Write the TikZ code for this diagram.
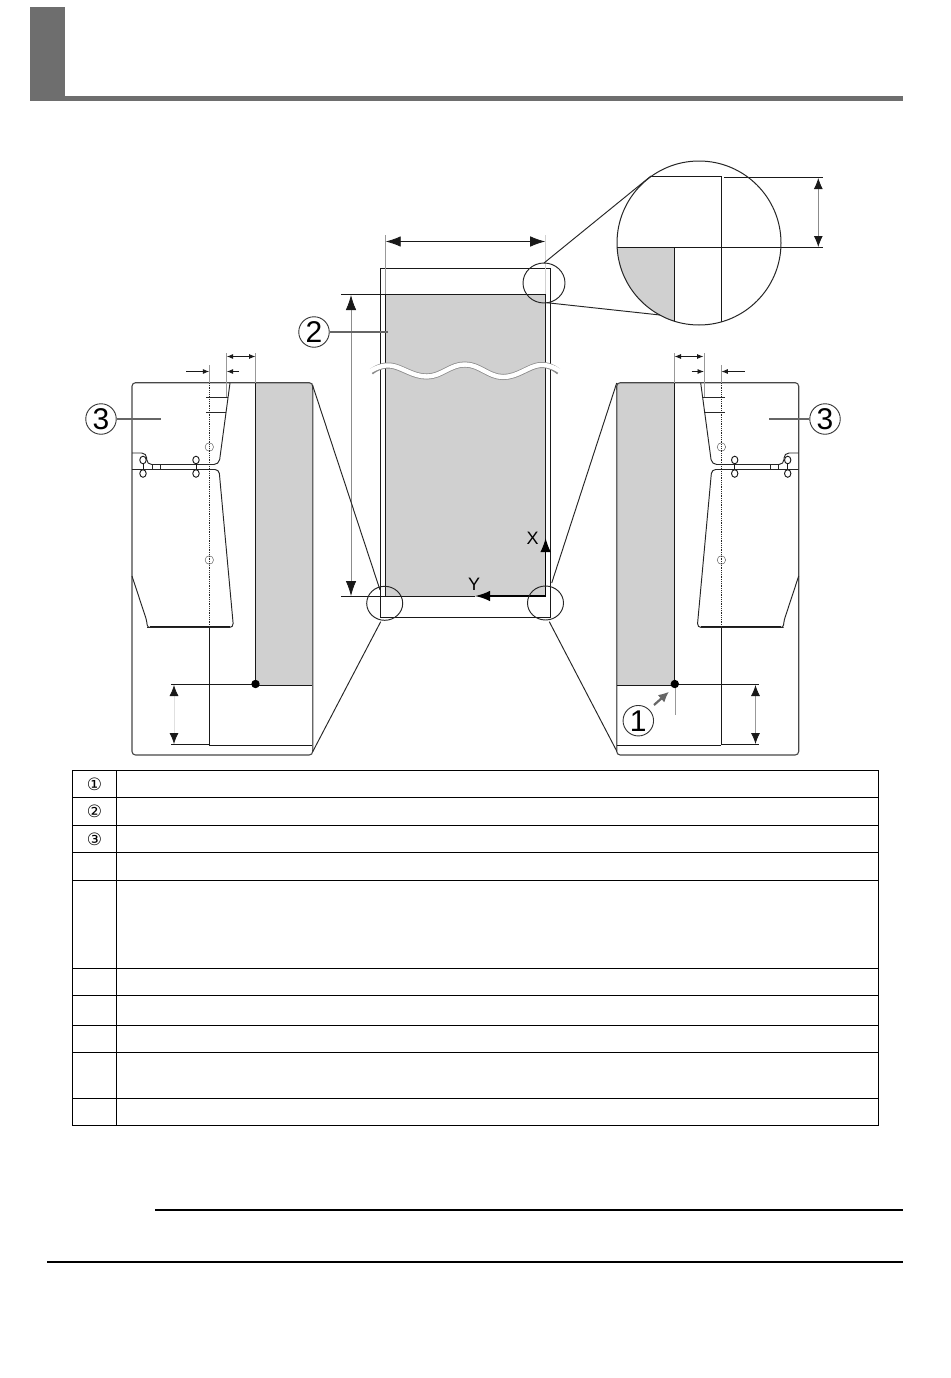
\documentclass[tikz,border=0pt]{standalone}
\usepackage{fontspec}
\setmainfont{Liberation Sans}
\newfontfamily\symfont{DejaVu Sans}
\usetikzlibrary{arrows.meta}
\definecolor{fillgray}{HTML}{D0D0D0}
\definecolor{bargray}{HTML}{6E6E6E}
\tikzset{
  ink/.style={draw=black!90,line width=1.1pt},
  thin ink/.style={draw=black!85,line width=.95pt},
  outline/.style={draw=black!72,line width=1.1pt,rounded corners=3.5pt},
  ext/.style={draw=black!40,line width=.8pt},
  bigdim/.style={draw=black!45,line width=.8pt,{Latex[length=15pt,width=10.5pt,color=black!90]}-{Latex[length=15pt,width=10.5pt,color=black!90]}},
  meddim/.style={draw=black!30,line width=.8pt,{Latex[length=11pt,width=9pt,color=black!90]}-{Latex[length=11pt,width=9pt,color=black!90]}},
  smalldim/.style={draw=black!90,line width=.8pt,{Latex[length=6.5pt,width=5pt]}-{Latex[length=6.5pt,width=5pt]}},
  oneway/.style={draw=black!90,line width=.8pt,-{Latex[length=6.5pt,width=5pt]}},
  callout/.style={circle,draw=black!80,line width=.9pt,minimum size=30.5pt,inner sep=0pt,fill=white,font=\fontsize{30}{30}\selectfont},
  leader/.style={draw=black!60,line width=1.6pt},
  axislabel/.style={inner sep=0pt,font=\fontsize{18}{18}\selectfont},
  tablesym/.style={inner sep=0pt,font=\symfont\fontsize{17}{17}\selectfont},
  bolt/.style={draw=black!90,line width=.95pt,fill=white},
  pin/.style={draw=black!60,line width=.5pt,fill=none},
  rule/.style={draw=black,line width=2pt},
  tbl/.style={draw=black,line width=1.1pt},
}
\newcommand{\panelparts}{%
  \draw[thin ink,rounded corners=5pt] (230,383) -- (219,464.5) -- (146.7,464.5) -- (146.7,453) -- (132,453);
  \draw[thin ink,rounded corners=4pt] (132,469.5) -- (219,469.5) -- (233.5,627.5) -- (147,627.5);
  \draw[thin ink,rounded corners=2.5pt] (160,627.5) -- (147.5,627.5) -- (146.5,620) -- (132,576);
  \draw[ink,line width=1.4pt] (150,626.7) -- (230,626.7);
  \draw[thin ink] (152.3,464) -- (152.3,469.5) (160.7,464) -- (160.7,469.5);
  \draw[thin ink] (206,397.5) -- (227.5,397.5) (206,412.5) -- (225.5,412.5);
  \draw[ink,line width=.9pt] (143,460) -- (143,473.5) (196,460) -- (196,473.5);
  \foreach \bx in {143,196} \foreach \by in {460,473.5}
    \path[bolt] (\bx,\by) ellipse (3.2pt and 3.8pt);
  \draw[pin,fill=white] (209.3,447) circle (4.2pt) (209.3,560) circle (4.2pt);
  \draw[draw=black!85,line width=.8pt,densely dotted] (209.3,383) -- (209.3,628);
  \draw[ink] (209.3,628) -- (209.3,745);
  \draw[ext] (209.3,365) -- (209.3,383) (226.7,353) -- (226.7,397);
  \coordinate (cA) at (186,371.5); \coordinate (cB) at (209.3,371.5);
  \coordinate (cC) at (239,371.5); \coordinate (cD) at (226.7,371.5);
  \draw[oneway] (cA) -- (cB);
  \draw[oneway] (cC) -- (cD);
}
\begin{document}
\begin{tikzpicture}[x=1pt,y=-1pt]
\useasboundingbox (0,0) rectangle (950,1378);
\fill[white] (0,0) rectangle (950,1378);

% header
\fill[bargray] (30,7) rectangle (65,101);
\fill[bargray] (30,96) rectangle (903,101);

% ---------- centre sheet ----------
\fill[fillgray] (385.7,294.5) rectangle (545.7,596.5);
\draw[ink] (380.5,268.5) rectangle (550.6,617.5);
\draw[ink] (341,294.5) -- (545.7,294.5);
\draw[ink] (341,596.5) -- (475,596.5);
\draw[ink] (385.6,294.5) -- (385.6,596.5);
\draw[ink] (545.6,294.5) -- (545.6,596.5);
\draw[ext] (385.6,235) -- (385.6,294);
\draw[ext,black!18] (545.2,235) -- (545.2,294);
\coordinate (wL) at (385.7,241.5); \coordinate (wR) at (545.2,241.5);
\draw[bigdim,draw=black!90] (wL) -- (wR);
\coordinate (hT) at (351,295); \coordinate (hB) at (351,596);
\draw[bigdim] (hT) -- (hB);

% wavy break
\draw[draw=black!45,line width=6pt] plot[smooth,tension=.7] coordinates {(371,372) (390,365.5) (427,376.5) (465,364.5) (503,377) (540,365) (559,372)};
\draw[draw=white,line width=4.4pt] plot[smooth,tension=.7] coordinates {(369,372) (390,365.5) (427,376.5) (465,364.5) (503,377) (540,365) (561,372)};

% origin axes
\coordinate (org) at (545.6,596.5); \coordinate (xEnd) at (545.6,538); \coordinate (yEnd) at (475,596);
\draw[draw=black,line width=1.2pt,-{Latex[length=14pt,width=10.5pt]}] (org) -- (xEnd);
\draw[draw=black,line width=2.2pt,-{Latex[length=15pt,width=10.5pt]}] (545.7,596) -- (yEnd);
\node[axislabel] (lx) at (532.7,538) {X};
\node[axislabel] (ly) at (474,584) {Y};

% ---------- zoom circles ----------
\draw[thin ink] (544,283) ellipse (21pt and 20pt);
\draw[thin ink] (384.7,603.3) ellipse (18pt and 17pt);
\draw[thin ink] (545.5,603) ellipse (18pt and 17pt);

\begin{scope}
  \clip (699,243) circle (82pt);
  \fill[fillgray] (600,247.5) rectangle (674.5,340);
  \draw[ink] (674.5,247.3) -- (674.5,340);
  \draw[ink] (721.5,176.5) -- (721.5,340);
\end{scope}
\draw[ink] (651,176.5) -- (721.5,176.5);
\draw[ink] (724,177.5) -- (823,177.5);
\draw[ink] (617,247.5) -- (823,247.5);
\draw[draw=black!85,line width=1pt] (699,243) circle (82pt);
\coordinate (dT) at (818.3,178); \coordinate (dB) at (818.3,247);
\draw[meddim,draw=black!45] (dT) -- (dB);
\coordinate (zA) at (544,263); \coordinate (zB) at (651,176);
\coordinate (zC) at (546.7,302.7); \coordinate (zD) at (660,315);
\draw[thin ink] (zA) -- (zB);
\draw[thin ink] (zC) -- (zD);

% ---------- left panel ----------
\fill[fillgray] (255.5,383) rectangle (312.7,685.5);
\draw[outline] (132,382.7) rectangle (312.7,755);
\draw[draw=black!60,line width=1.3pt] (312.7,390) -- (312.7,750);
\panelparts
\draw[ink] (255.5,383) -- (255.5,685.5);
\draw[ext] (255.5,353) -- (255.5,383);
\draw[ink] (255.5,685.5) -- (312,685.5);
\draw[ink] (171,684.5) -- (255.5,684.5);
\draw[ink] (171,744.5) -- (209.3,744.5);
\draw[ink] (209.3,745.5) -- (312,745.5);
\fill[black] (255.5,684) circle (4.2pt);
\coordinate (lsA) at (226.7,356.5); \coordinate (lsB) at (255.5,356.5);
\draw[smalldim] (lsA) -- (lsB);
\coordinate (lmT) at (174,685); \coordinate (lmB) at (174,744);
\draw[meddim,draw=black!12] (lmT) -- (lmB);

% ---------- right panel ----------
\fill[fillgray] (616.7,383) rectangle (674.5,685.5);
\draw[outline] (616.7,382.7) rectangle (798.7,755);
\draw[draw=black!60,line width=1.3pt] (616.7,390) -- (616.7,750);
\begin{scope}[xshift=930.7pt,x=-1pt]
  \panelparts
\end{scope}
\draw[ink] (674.5,383) -- (674.5,684.5);
\draw[ext] (674.5,353) -- (674.5,383);
\draw[ext] (675,684) -- (675,715);
\draw[ink] (617,685.5) -- (674.5,685.5);
\draw[ink] (674.5,684.5) -- (759,684.5);
\draw[ink] (617,745.5) -- (721.4,745.5);
\draw[ink] (721.4,744.5) -- (759,744.5);
\fill[black] (674.8,684) circle (4.2pt);
\coordinate (rsA) at (674.5,356.5); \coordinate (rsB) at (703.5,356.5);
\draw[smalldim] (rsA) -- (rsB);
\coordinate (rmT) at (755.5,685); \coordinate (rmB) at (755.5,744);
\draw[meddim,draw=black!40] (rmT) -- (rmB);

% connectors from the sheet corners to the panels
\coordinate (c1a) at (312.5,385); \coordinate (c1b) at (380,590);
\coordinate (c2a) at (312.7,751.7); \coordinate (c2b) at (380.7,621.7);
\coordinate (c3a) at (616.7,383); \coordinate (c3b) at (551.7,583);
\coordinate (c4a) at (616.7,751); \coordinate (c4b) at (549.3,621.7);
\draw[thin ink] (c1a) -- (c1b);
\draw[thin ink] (c2a) -- (c2b);
\draw[thin ink] (c3a) -- (c3b);
\draw[thin ink] (c4a) -- (c4b);

% callouts
\node[callout] (n2) at (314,332) {2};
\node[callout] (n3l) at (101,419) {3};
\node[callout] (n3r) at (825,419) {3};
\node[callout] (n1) at (638.3,720.7) {1};
\coordinate (l2) at (388,332); \coordinate (l3l) at (160.7,419); \coordinate (l3r) at (769,419);
\coordinate (a1) at (669,691.7);
\draw[leader] (n2) -- (l2);
\draw[leader] (n3l) -- (l3l);
\draw[leader] (n3r) -- (l3r);
\draw[draw=black!60,line width=2.2pt,-{Latex[length=10.5pt,width=10pt]}] (654,705) -- (a1);

% ---------- table ----------
\draw[tbl] (72.5,770.5) rectangle (878.5,1125.5);
\draw[tbl] (116.5,770.5) -- (116.5,1125.5);
\foreach \ty in {797.5,825.5,852.5,880.5,968.5,995.5,1025.5,1052.5,1098.5}
  \draw[tbl] (72.5,\ty) -- (878.5,\ty);
\node[tablesym] (t1) at (94.5,784) {①};
\node[tablesym] (t2) at (94.5,811.5) {②};
\node[tablesym] (t3) at (94.5,839) {③};

% footer rules
\draw[rule] (155,1210) -- (903,1210);
\draw[rule] (47,1262) -- (903,1262);
\end{tikzpicture}
\end{document}
